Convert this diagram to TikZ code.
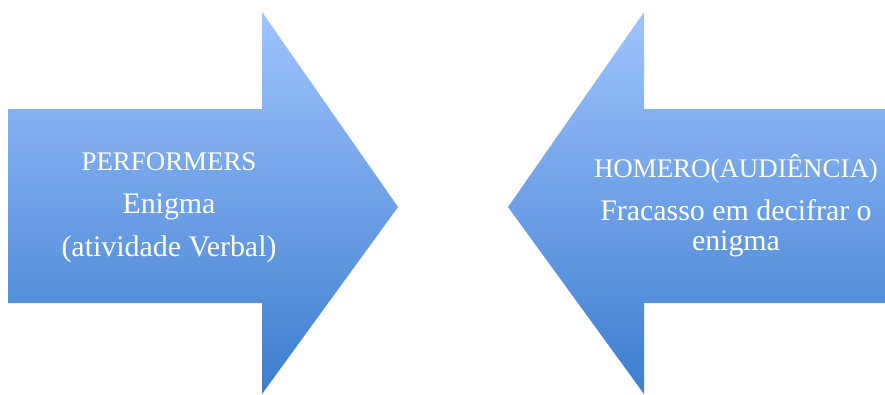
\documentclass[tikz,border=0pt]{standalone}
\usepackage{fontspec}
\setmainfont{Liberation Serif}
\usepackage{tikz}
\definecolor{arrowtop}{RGB}{160,196,255}
\definecolor{arrowbottom}{RGB}{60,125,205}
\newcommand{\capsline}[1]{{\fontsize{27}{30}\selectfont #1}}
\tikzset{
  big arrow/.style={top color=arrowtop, bottom color=arrowbottom, draw=none},
  arrow text/.style={text=white, align=center, inner sep=0pt,
    font=\fontsize{30}{30}\selectfont}
}
\begin{document}
\begin{tikzpicture}[x=1bp,y=-1bp]
            \useasboundingbox (0,0) rectangle (885,394);
            % left arrow, pointing right
            \path[big arrow] (8,109) -- (262,109) -- (262,12) -- (398,207) -- (262,394) -- (262,303) -- (8,303) -- cycle;
            % right arrow, pointing left
            \path[big arrow] (885,109) -- (644,109) -- (644,12) -- (508,207) -- (644,394) -- (644,303) -- (885,303) -- cycle;
            \node[arrow text] (performers) at (169,208) {\capsline{PERFORMERS}\\[13pt]Enigma\\[13pt](atividade Verbal)};
            \node[arrow text] (homero) at (736,206) {\capsline{HOMERO(AUDIÊNCIA)}\\[13pt]Fracasso em decifrar o\\enigma};
        \end{tikzpicture}
\end{document}
